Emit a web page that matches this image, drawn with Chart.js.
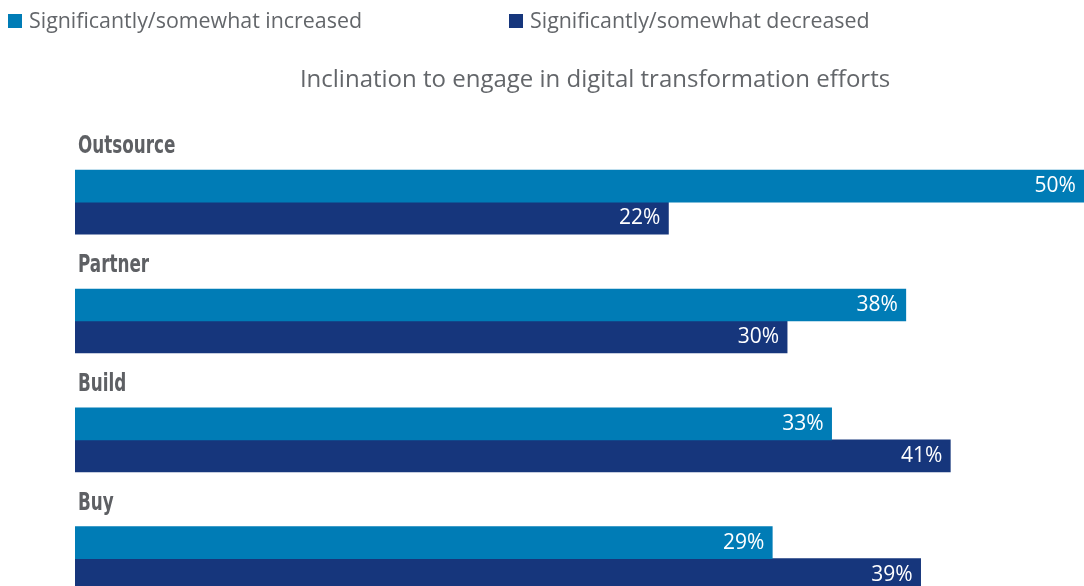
<!DOCTYPE html>
<html>
<head>
<meta charset="utf-8">
<script src="https://cdn.jsdelivr.net/npm/chart.js@4"></script>
<style>
    html, body { margin: 0; padding: 0; background: #fff; overflow: hidden; }
    .wrap { width: 1115px; height: 618px; }
</style>
</head>
<body>
<div class="wrap"><canvas class="js-chart"></canvas></div>
<script>
const categories = ['Outsource', 'Partner', 'Build', 'Buy'];
const increased = [50, 38, 33, 29];
const decreased = [22, 30, 41, 39];
const seriesNames = ['Significantly/somewhat increased', 'Significantly/somewhat decreased'];
const BAR_BASE = -18;
const AXIS_MAX = 52.1;

const TEXT_GREY = '#63666a';
const LIGHT_BLUE = '#007cb6';
const DARK_BLUE = '#16367c';

const canvas = document.querySelector('.js-chart').getContext('2d');

// legend drawn by hand, the items sit far apart on the left
const legendPlugin = {
    id: 'sideLegend',
    afterDraw(chart) {
        const ctx = chart.ctx;
        const xs = [8, 509];
        ctx.save();
        ctx.font = '21.4px "Open Sans"';
        ctx.textBaseline = 'alphabetic';
        ctx.textAlign = 'left';
        chart.data.datasets.forEach((ds, i) => {
            ctx.fillStyle = ds.backgroundColor;
            ctx.fillRect(xs[i], 14, 14, 14);
            ctx.fillStyle = TEXT_GREY;
            ctx.fillText(ds.label, xs[i] + 21, 28);
        });
        ctx.restore();
    }
};

// category names above each bar pair, values inside the bar ends
const labelsPlugin = {
    id: 'barLabels',
    afterDatasetsDraw(chart) {
        const ctx = chart.ctx;
        const yScale = chart.scales.y;
        ctx.save();
        ctx.font = 'bold 24px "DejaVu Sans", sans-serif';
        ctx.fillStyle = '#5e6064';
        ctx.textAlign = 'left';
        ctx.textBaseline = 'alphabetic';
        chart.data.labels.forEach((label, i) => {
            ctx.save();
            ctx.translate(78, yScale.getPixelForValue(i) - 49);
            ctx.scale(0.70, 1); // narrow look of the original condensed face
            ctx.fillText(label, 0, 0);
            ctx.restore();
        });

        ctx.font = '21px "Open Sans"';
        ctx.fillStyle = '#ffffff';
        ctx.textAlign = 'right';
        ctx.textBaseline = 'middle';
        chart.data.datasets.forEach((ds, di) => {
            chart.getDatasetMeta(di).data.forEach((bar, i) => {
                ctx.fillText(ds.data[i] + '%', bar.x - 8, bar.y);
            });
        });
        ctx.restore();
    }
};

new Chart(canvas, {
    type: 'bar',
    data: {
        labels: categories,
        datasets: [{
            label: seriesNames[0],
            data: increased,
            backgroundColor: LIGHT_BLUE,
            base: BAR_BASE,
            barThickness: 32,
        },
        {
            label: seriesNames[1],
            data: decreased,
            backgroundColor: DARK_BLUE,
            base: BAR_BASE,
            barThickness: 32,
        }]
    },
    options: {
        indexAxis: 'y',
        responsive: true,
        maintainAspectRatio: false,
        animation: false,
        layout: { padding: { left: 75, right: 0, top: 0, bottom: 0 } },
        scales: {
            x: { display: false, min: BAR_BASE, max: AXIS_MAX },
            y: { display: false }
        },
        plugins: {
            legend: { display: false },
            tooltip: { enabled: false },
            title: {
                display: true,
                text: 'Inclination to engage in digital transformation efforts',
                color: TEXT_GREY,
                font: { family: '"Open Sans"', size: 24, weight: 'normal', lineHeight: 1.2 },
                padding: { top: 66, bottom: 48 }
            }
        }
    },
    plugins: [legendPlugin, labelsPlugin]
});
</script>
</body>
</html>
